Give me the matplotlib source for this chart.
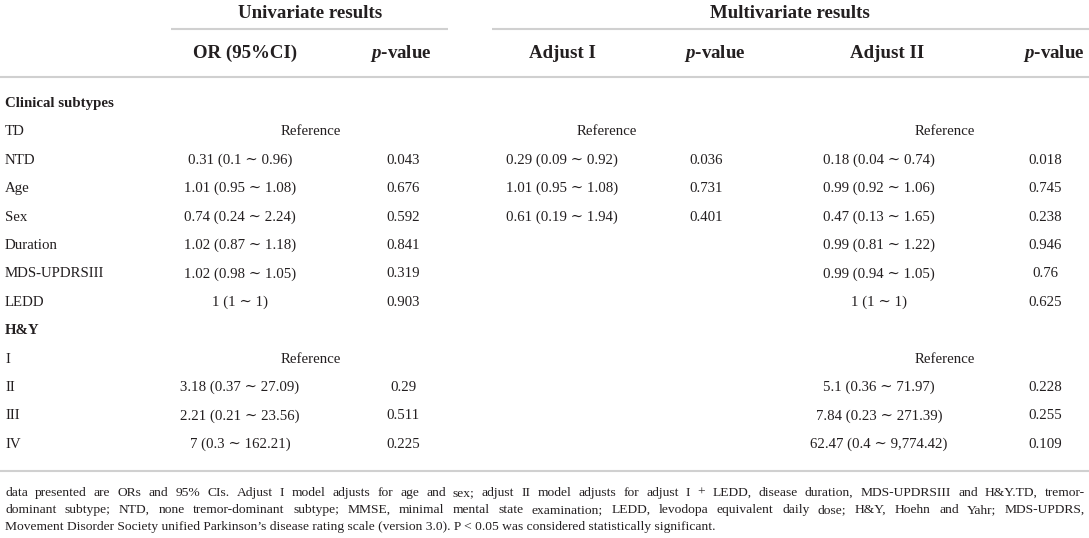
import matplotlib
matplotlib.use("Agg")
import matplotlib.pyplot as plt

plt.rcParams['font.family'] = ['Liberation Serif', 'DejaVu Serif']
plt.rcParams['mathtext.fontset'] = 'custom'
plt.rcParams['mathtext.it'] = 'Liberation Serif:italic:bold'
plt.rcParams['mathtext.rm'] = 'Liberation Serif:bold'

# table content
group_titles = ["Univariate results", "Multivariate results"]
col_headers = ["OR (95%CI)", r"$\mathit{p}$-value", "Adjust I", r"$\mathit{p}$-value",
               "Adjust II", r"$\mathit{p}$-value"]

row_labels = ["Clinical subtypes", "TD", "NTD", "Age", "Sex", "Duration", "MDS-UPDRSIII",
              "LEDD", "H&Y", "I", "II", "III", "IV"]
section_rows = ["Clinical subtypes", "H&Y"]

uni_or = ["", "Reference", "0.31 (0.1 ∼ 0.96)", "1.01 (0.95 ∼ 1.08)", "0.74 (0.24 ∼ 2.24)",
          "1.02 (0.87 ∼ 1.18)", "1.02 (0.98 ∼ 1.05)", "1 (1 ∼ 1)", "", "Reference",
          "3.18 (0.37 ∼ 27.09)", "2.21 (0.21 ∼ 23.56)", "7 (0.3 ∼ 162.21)"]
uni_p = ["", "", "0.043", "0.676", "0.592", "0.841", "0.319", "0.903", "", "",
         "0.29", "0.511", "0.225"]
adj1 = ["", "Reference", "0.29 (0.09 ∼ 0.92)", "1.01 (0.95 ∼ 1.08)", "0.61 (0.19 ∼ 1.94)",
        "", "", "", "", "", "", "", ""]
adj1_p = ["", "", "0.036", "0.731", "0.401", "", "", "", "", "", "", "", ""]
adj2 = ["", "Reference", "0.18 (0.04 ∼ 0.74)", "0.99 (0.92 ∼ 1.06)", "0.47 (0.13 ∼ 1.65)",
        "0.99 (0.81 ∼ 1.22)", "0.99 (0.94 ∼ 1.05)", "1 (1 ∼ 1)", "", "Reference",
        "5.1 (0.36 ∼ 71.97)", "7.84 (0.23 ∼ 271.39)", "62.47 (0.4 ∼ 9,774.42)"]
adj2_p = ["", "", "0.018", "0.745", "0.238", "0.946", "0.76", "0.625", "", "",
          "0.228", "0.255", "0.109"]

footnote = [
    "data presented are ORs and 95% CIs. Adjust I model adjusts for age and sex; adjust II model "
    "adjusts for adjust I + LEDD, disease duration, MDS-UPDRSIII and H&Y.TD, tremor-",
    "dominant subtype; NTD, none tremor-dominant subtype; MMSE, minimal mental state examination; "
    "LEDD, levodopa equivalent daily dose; H&Y, Hoehn and Yahr; MDS-UPDRS,",
    "Movement Disorder Society unified Parkinson’s disease rating scale (version 3.0). "
    "P < 0.05 was considered statistically significant.",
]

# layout (pixel coordinates)
W, H = 1089, 538
ink = "#231f20"
rule = "#d0d0d0"
header_x = [245, 401, 562, 715, 887, 1054]
data_x = [240, 403, 562, 706, 879, 1045]
ref_x = [311, 607, 945]
row_y0, row_step = 107, 28.4
body_fs = 10.7
head_fs = 13.6

fig = plt.figure(figsize=(W / 100, H / 100), dpi=100)
ax = fig.add_axes([0, 0, 1, 1])
ax.set_xlim(0, W)
ax.set_ylim(H, 0)
ax.axis("off")

# group titles and rules
ax.text(310, 18, group_titles[0], ha="center", va="baseline", fontsize=head_fs,
        fontweight="bold", color=ink)
ax.text(790, 18, group_titles[1], ha="center", va="baseline", fontsize=head_fs,
        fontweight="bold", color=ink)
ax.plot([171, 448], [29, 29], color=rule, lw=1.5, solid_capstyle="butt")
ax.plot([492, W], [29, 29], color=rule, lw=1.5, solid_capstyle="butt")

for x, h in zip(header_x, col_headers):
    ax.text(x, 58, h, ha="center", va="baseline", fontsize=head_fs, fontweight="bold",
            color=ink)
ax.plot([0, W], [77, 77], color=rule, lw=1.5, solid_capstyle="butt")

columns = [uni_or, uni_p, adj1, adj1_p, adj2, adj2_p]
for i, lab in enumerate(row_labels):
    y = row_y0 + i * row_step
    bold = lab in section_rows
    ax.text(5, y, lab, ha="left", va="baseline", fontsize=body_fs,
            fontweight="bold" if bold else "normal", color=ink)
    for j, col in enumerate(columns):
        s = col[i]
        if not s:
            continue
        x = ref_x[j // 2] if s == "Reference" else data_x[j]
        ax.text(x, y, s, ha="center", va="baseline", fontsize=body_fs, color=ink)

ax.plot([0, W], [471, 471], color=rule, lw=1.5, solid_capstyle="butt")

# footnote, justified except the last line
renderer = fig.canvas.get_renderer()
foot_fs = 9.7
left, right = 5, 1085
for k, line in enumerate(footnote):
    y = 496 + k * 16.8
    if k == len(footnote) - 1:
        ax.text(left, y, line, ha="left", va="baseline", fontsize=foot_fs, color=ink)
        continue
    words = line.split(" ")
    arts = [ax.text(0, y, w, ha="left", va="baseline", fontsize=foot_fs, color=ink)
            for w in words]
    widths = [a.get_window_extent(renderer).width for a in arts]
    gap = (right - left - sum(widths)) / (len(words) - 1)
    x = left
    for a, wd in zip(arts, widths):
        a.set_x(x)
        x += wd + gap

fig.savefig("out.png", dpi=100)
